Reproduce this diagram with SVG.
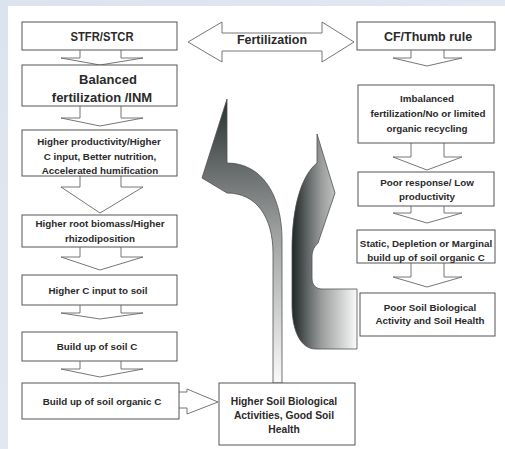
<svg xmlns="http://www.w3.org/2000/svg" width="505" height="449" viewBox="0 0 505 449">
<defs>
<linearGradient id="gUp" x1="0" y1="99" x2="0" y2="383" gradientUnits="userSpaceOnUse">
<stop offset="0" stop-color="#283030"/>
<stop offset="0.45" stop-color="#9a9c9c"/>
<stop offset="1" stop-color="#fafafa"/>
</linearGradient>
<linearGradient id="gC" x1="292" y1="0" x2="357" y2="0" gradientUnits="userSpaceOnUse">
<stop offset="0" stop-color="#1e2626"/>
<stop offset="0.45" stop-color="#9a9c9c"/>
<stop offset="1" stop-color="#fafafa"/>
</linearGradient>
<linearGradient id="gBg" x1="0" y1="0" x2="1" y2="1">
<stop offset="0" stop-color="#dbe3ee"/>
<stop offset="1" stop-color="#e9edf3"/>
</linearGradient>
</defs>
<style>
.box{fill:#ffffff;stroke:#555;stroke-width:1}
.arr{fill:#ffffff;stroke:#666;stroke-width:0.9}
.big{stroke:#505050;stroke-width:0.8}
text{font-family:"Liberation Sans",Arial,sans-serif;font-weight:bold;fill:#2a2a2a;text-anchor:middle}
.h{font-size:12.5px}
.m{font-size:13px}
.s{font-size:9.8px}
.c{font-size:10.3px}
</style>
<rect x="0" y="0" width="505" height="449" fill="url(#gBg)"/>
<rect x="8" y="6" width="497" height="443" fill="#ffffff"/>

<g id="connectors">
<path class="arr" d="M188,42 L222,22 L222,33 L322,33 L322,22 L354,42 L322,62 L322,51 L222,51 L222,62 Z"/>
<path class="arr" d="M80,50 L80,58 L61,58 L100,65 L143,58 L121,58 L121,50"/>
<path class="arr" d="M80,106 L80,118 L61,118 L100,126 L143,118 L121,118 L121,106"/>
<path class="arr" d="M80,176 L80,187 L61,187 L100,213 L143,187 L121,187 L121,176"/>
<path class="arr" d="M80,247 L80,257 L61,257 L100,270 L143,257 L121,257 L121,247"/>
<path class="arr" d="M80,305 L80,313 L61,313 L100,319 L143,313 L121,313 L121,305"/>
<path class="arr" d="M80,361 L80,369 L61,369 L100,377 L143,369 L121,369 L121,361"/>
<path class="arr" d="M411,50 L411,58 L393,58 L427,66 L462,58 L444,58 L444,50"/>
<path class="arr" d="M411,143 L411,157 L393,157 L427,170 L462,157 L444,157 L444,143"/>
<path class="arr" d="M411,206 L411,213 L393,213 L427,223 L462,213 L444,213 L444,206"/>
<path class="arr" d="M411,263 L411,277 L393,277 L427,287 L462,277 L444,277 L444,263"/>
<path class="arr" d="M178,392 L187,392 L187,389 L218,402 L187,414 L187,408 L178,408"/>
<path class="big" fill="url(#gUp)" d="M273,383 L273,253 C273,218 257,193 227,193 L202,178 L227,99 L227,163 C262,163 282,195 282,240 L282,383 Z"/>
<path class="big" fill="url(#gC)" d="M317,134 L335,193 L318,243 C313,248 312,252 312,258 L312,278 C312,285 316,289 322,289 L357,289 L357,349 L316,349 C300,349 292,330 292,305 L292,250 C292,205 302,175 317,163 Z"/>
</g>

<g id="stfr"><rect class="box" x="22" y="22" width="155" height="28"/><text class="h" x="102" y="41" textLength="63" lengthAdjust="spacingAndGlyphs">STFR/STCR</text></g>
<g id="fert"><text class="h" x="272" y="44">Fertilization</text></g>
<g id="cf"><rect class="box" x="357" y="22" width="138" height="28"/><text class="h" x="428" y="41">CF/Thumb rule</text></g>

<g id="balanced"><rect class="box" x="22" y="65" width="155" height="41"/><text class="m" x="108" y="84">Balanced</text><text class="m" x="102" y="102">fertilization /INM</text></g>
<g id="prod"><rect class="box" x="22" y="130" width="155" height="46"/><text class="s" x="99" y="145">Higher productivity/Higher</text><text class="s" x="100" y="160">C input, Better nutrition,</text><text class="s" x="100" y="174">Accelerated humification</text></g>
<g id="root"><rect class="box" x="22" y="215" width="155" height="32"/><text class="s" x="100" y="227">Higher root biomass/Higher</text><text class="s" x="100" y="242">rhizodiposition</text></g>
<g id="cinput"><rect class="box" x="22" y="275" width="155" height="30"/><text class="s" x="98" y="294">Higher C input to soil</text></g>
<g id="buildc"><rect class="box" x="22" y="332" width="155" height="29"/><text class="s" x="97" y="350">Build up of soil C</text></g>
<g id="buildoc"><rect class="box" x="22" y="383" width="157" height="36"/><text class="s" x="102" y="405">Build up of soil organic C</text></g>

<g id="imbal"><rect class="box" x="358" y="85" width="136" height="58"/><text class="s" x="427" y="102">Imbalanced</text><text class="s" x="428" y="117">fertilization/No or limited</text><text class="s" x="427" y="132">organic recycling</text></g>
<g id="poorresp"><rect class="box" x="358" y="172" width="136" height="34"/><text class="s" x="427" y="186">Poor response/ Low</text><text class="s" x="427" y="200">productivity</text></g>
<g id="static"><rect class="box" x="357" y="230" width="138" height="33"/><text class="s" x="426" y="247">Static, Depletion or Marginal</text><text class="s" x="426" y="261">build up of soil organic C</text></g>
<g id="poorsoil"><rect class="box" x="360" y="293" width="135" height="43"/><text class="s" x="430" y="311">Poor Soil Biological</text><text class="s" x="430" y="324">Activity and Soil Health</text></g>

<g id="highsoil"><rect class="box" x="219" y="383" width="136" height="62"/><text class="c" x="284" y="405">Higher Soil Biological</text><text class="c" x="284" y="419">Activities, Good Soil</text><text class="c" x="284" y="433">Health</text></g>
</svg>
